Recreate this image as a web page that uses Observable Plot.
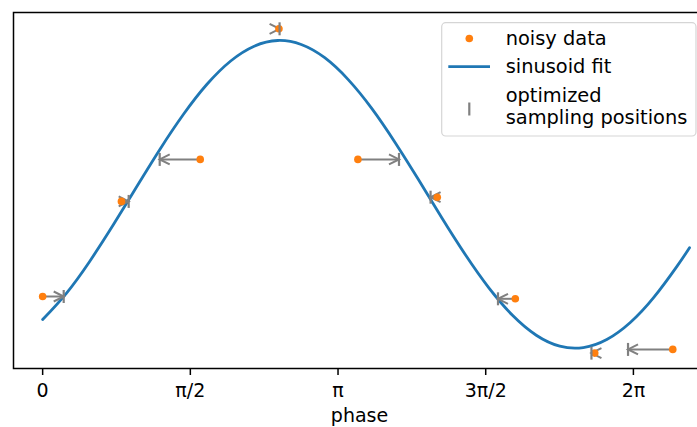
<!DOCTYPE html>
<html><head><meta charset="utf-8">
<script src="https://cdn.jsdelivr.net/npm/d3@7"></script>
<script src="https://cdn.jsdelivr.net/npm/@observablehq/plot@0.6"></script>
<style>
body{margin:0;background:#fff;}
#wrap{position:relative;width:697px;height:427px;overflow:hidden;font-family:"DejaVu Sans",sans-serif;}
#wrap svg{overflow:hidden;}
#legend{position:absolute;left:0;top:0;}
[aria-label^="x-axis"] line,[aria-label^="x-axis"] path{stroke-width:1.5px;}
</style></head><body><div id="wrap"></div>
<script>
// x-axis ticks
const tickValues = [0, Math.PI / 2, Math.PI, 3 * Math.PI / 2, 2 * Math.PI];
const tickLabels = ["0", "π/2", "π", "3π/2", "2π"];

// noisy data (orange dots)
const dataPhase = [0, 0.838, 1.676, 2.513, 3.353, 4.197, 5.027, 5.872, 6.702];
const dataValue = [-0.664, -0.046, 0.227, 1.076, 0.227, -0.0185, -0.679, -1.032, -1.008];

// optimized sampling positions (grey ticks), one per data point
const optPhase = [0.224, 0.915, 1.245, 2.52, 3.79, 4.126, 4.843, 5.837, 6.226];

// sinusoid fit
const fitPhase = [0, 0.25, 0.5, 0.75, 1.0, 1.25, 1.5, 1.75, 2.0, 2.25, 2.5, 2.75, 3.0, 3.25, 3.5, 3.75,
                  4.0, 4.25, 4.5, 4.75, 5.0, 5.25, 5.5, 5.75, 6.0, 6.25, 6.5, 6.75, 6.88];
const fitValue = [-0.814, -0.645, -0.436, -0.200, 0.049, 0.295, 0.522, 0.717, 0.867, 0.963, 1.000, 0.974,
                  0.888, 0.746, 0.559, 0.336, 0.093, -0.157, -0.396, -0.611, -0.788, -0.916, -0.987,
                  -0.996, -0.944, -0.833, -0.670, -0.465, -0.347];

const legendLabels = ["noisy data", "sinusoid fit", "optimized", "sampling positions"];

const ORANGE = "#ff7f0e", BLUE = "#1f77b4", GREY = "#808080";

const idx = dataPhase.map((_, i) => i);
const fit = fitPhase.map((p, i) => ({p, v: fitValue[i]}));

const headRight = {draw(ctx) { ctx.moveTo(-10, -5); ctx.lineTo(0, 0); ctx.lineTo(-10, 5); }};
const headLeft = {draw(ctx) { ctx.moveTo(10, -5); ctx.lineTo(0, 0); ctx.lineTo(10, 5); }};
const vtick = {draw(ctx) { ctx.moveTo(0, -6.5); ctx.lineTo(0, 6.5); }};

const chart = Plot.plot({
  width: 697,
  height: 427,
  marginLeft: 13,
  marginRight: -8,
  marginTop: 12,
  marginBottom: 59,
  style: {fontFamily: "DejaVu Sans, sans-serif", fontSize: "19px", background: "white", color: "black"},
  x: {domain: [-0.31, 7.05], ticks: tickValues, tickFormat: (d) => tickLabels[tickValues.indexOf(d)],
      tickSize: 7, tickPadding: 8, label: null},
  y: {domain: [-1.132, 1.182], axis: null},
  marks: [
    Plot.line(fit, {x: "p", y: "v", stroke: BLUE, strokeWidth: 2.8, curve: "natural"}),
    Plot.link(idx, {x1: (i) => dataPhase[i], x2: (i) => optPhase[i], y1: (i) => dataValue[i], y2: (i) => dataValue[i],
                    stroke: GREY, strokeWidth: 2}),
    Plot.dot(idx.filter((i) => optPhase[i] > dataPhase[i]), {x: (i) => optPhase[i], y: (i) => dataValue[i],
             symbol: headRight, r: 5, fill: "none", stroke: GREY, strokeWidth: 2}),
    Plot.dot(idx.filter((i) => optPhase[i] < dataPhase[i]), {x: (i) => optPhase[i], y: (i) => dataValue[i],
             symbol: headLeft, r: 5, fill: "none", stroke: GREY, strokeWidth: 2}),
    Plot.dot(idx, {x: (i) => dataPhase[i], y: (i) => dataValue[i], r: 3.8, fill: ORANGE, stroke: "none"}),
    Plot.dot(idx, {x: (i) => optPhase[i], y: (i) => dataValue[i], symbol: vtick, r: 5, fill: "none",
                   stroke: GREY, strokeWidth: 2.2}),
    Plot.frame({stroke: "black", strokeWidth: 1.5}),
    Plot.text(["phase"], {frameAnchor: "bottom", dy: 53, fontSize: 19, fill: "black"})
  ]
});

const wrap = document.getElementById("wrap");
wrap.appendChild(chart);

const ns = "http://www.w3.org/2000/svg";
const leg = document.createElementNS(ns, "svg");
leg.setAttribute("id", "legend");
leg.setAttribute("width", 697);
leg.setAttribute("height", 427);
leg.innerHTML = `
<rect x="441.7" y="22.7" width="254.3" height="113.3" rx="4" fill="white" fill-opacity="0.8" stroke="#d5d5d5" stroke-width="1.2"/>
<circle cx="469.3" cy="38.5" r="3.8" fill="${ORANGE}"/>
<line x1="448.3" x2="490" y1="66.7" y2="66.7" stroke="${BLUE}" stroke-width="2.8"/>
<line x1="469.3" x2="469.3" y1="102.5" y2="115.5" stroke="${GREY}" stroke-width="2.2"/>
<g font-family="DejaVu Sans, sans-serif" font-size="19.4" fill="black">
<text x="505.7" y="44.5">${legendLabels[0]}</text>
<text x="505.7" y="73.3">${legendLabels[1]}</text>
<text x="505.7" y="101.7">${legendLabels[2]}</text>
<text x="505.7" y="124.3">${legendLabels[3]}</text>
</g>`;
wrap.appendChild(leg);
</script>
</body></html>
